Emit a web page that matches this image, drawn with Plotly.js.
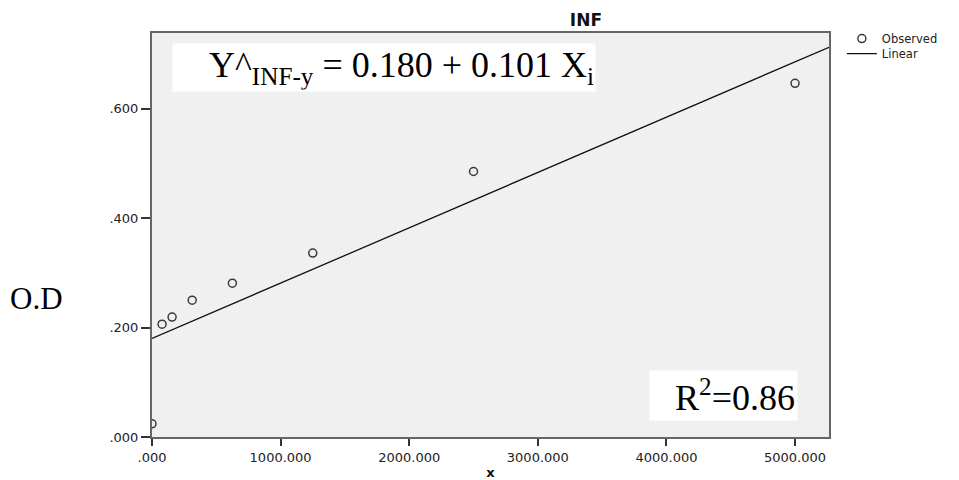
<!DOCTYPE html>
<html><head><meta charset="utf-8">
<script src="https://cdn.plot.ly/plotly-3.0.1.min.js"></script>
<style>body{margin:0;background:#fff}#c{width:959px;height:480px}</style>
</head><body><div id="c"></div>
<script>
const obsX = [0, 78.125, 156.25, 312.5, 625, 1250, 2500, 5000];
const obsY = [0.024, 0.206, 0.219, 0.250, 0.281, 0.336, 0.485, 0.646];
const fitX = [0, 5264];
const fitY = [0.180, 0.712];
const xTickVals = [0, 1000, 2000, 3000, 4000, 5000];
const xTickText = ['.000', '1000.000', '2000.000', '3000.000', '4000.000', '5000.000'];
const yTickVals = [0, 0.2, 0.4, 0.6];
const yTickText = ['.000', '.200', '.400', '.600'];

const traces = [
  {x: obsX, y: obsY, mode: 'markers', type: 'scatter', name: 'Observed', legend: 'legend',
   marker: {symbol: 'circle-open', size: 8, color: '#3a3a3a', line: {width: 1.5}}},
  {x: fitX, y: fitY, mode: 'lines', type: 'scatter', name: 'Linear', legend: 'legend2',
   line: {color: '#111', width: 1.3}}
];
const sans = 'DejaVu Sans, Liberation Sans, Arial';
const axFont = {family: sans, size: 13, color: '#222'};
const legFont = {family: sans, size: 11.5, color: '#222'};
const layout = {
  width: 959, height: 480,
  margin: {l: 152, r: 130, t: 33, b: 43},
  paper_bgcolor: '#fff', plot_bgcolor: '#f0f0f0',
  title: {text: '<b>INF</b>', font: {family: sans, size: 17, color: '#111'},
          x: 0.641, xref: 'paper', xanchor: 'center', y: 0.958, yref: 'container', yanchor: 'middle'},
  xaxis: {range: [0, 5264], tickvals: xTickVals, ticktext: xTickText, ticks: 'outside', ticklen: 7,
          tickwidth: 2, tickcolor: '#333', showgrid: false, zeroline: false, showline: true, linecolor: '#666',
          linewidth: 2, mirror: true, tickfont: axFont,
          title: {text: '<b>x</b>', font: {family: sans, size: 13, color: '#111'}, standoff: 13}},
  yaxis: {range: [0, 0.738], tickvals: yTickVals, ticktext: yTickText, ticks: 'outside', ticklen: 9,
          tickwidth: 2, tickcolor: '#333', showgrid: false, zeroline: false, showline: true, linecolor: '#666',
          linewidth: 2, mirror: true, tickfont: axFont},
  showlegend: true,
  legend: {x: 1.019, y: 1.022, xanchor: 'left', yanchor: 'top', bgcolor: 'rgba(0,0,0,0)',
           font: legFont, itemwidth: 30},
  legend2: {x: 1.019, y: 0.985, xanchor: 'left', yanchor: 'top', bgcolor: 'rgba(0,0,0,0)',
           font: legFont, itemwidth: 30},
  annotations: [
    {xref: 'paper', yref: 'paper', x: 0.0295, y: 0.975, xanchor: 'left', yanchor: 'top',
     text: 'Y^<sub>INF-y</sub> = 0.180 + 0.101 X<sub>i</sub>', showarrow: false,
     font: {family: 'Liberation Serif, Times New Roman', size: 36, color: '#000'},
     bgcolor: '#fff', borderpad: 1, width: 420, align: 'right'},
    {xref: 'paper', yref: 'paper', x: 0.954, y: 0.04, xanchor: 'right', yanchor: 'bottom',
     text: 'R<sup>2</sup>=0.86', showarrow: false,
     font: {family: 'Liberation Serif, Times New Roman', size: 36, color: '#000'},
     bgcolor: '#fff', borderpad: 2, width: 143, align: 'right'},
    {xref: 'paper', yref: 'paper', x: -0.171, y: 0.342, xanchor: 'center', yanchor: 'middle',
     text: 'O.D', showarrow: false,
     font: {family: 'Liberation Serif, Times New Roman', size: 31, color: '#000'}}
  ]
};
Plotly.newPlot('c', traces, layout, {staticPlot: true, displayModeBar: false});
</script></body></html>
